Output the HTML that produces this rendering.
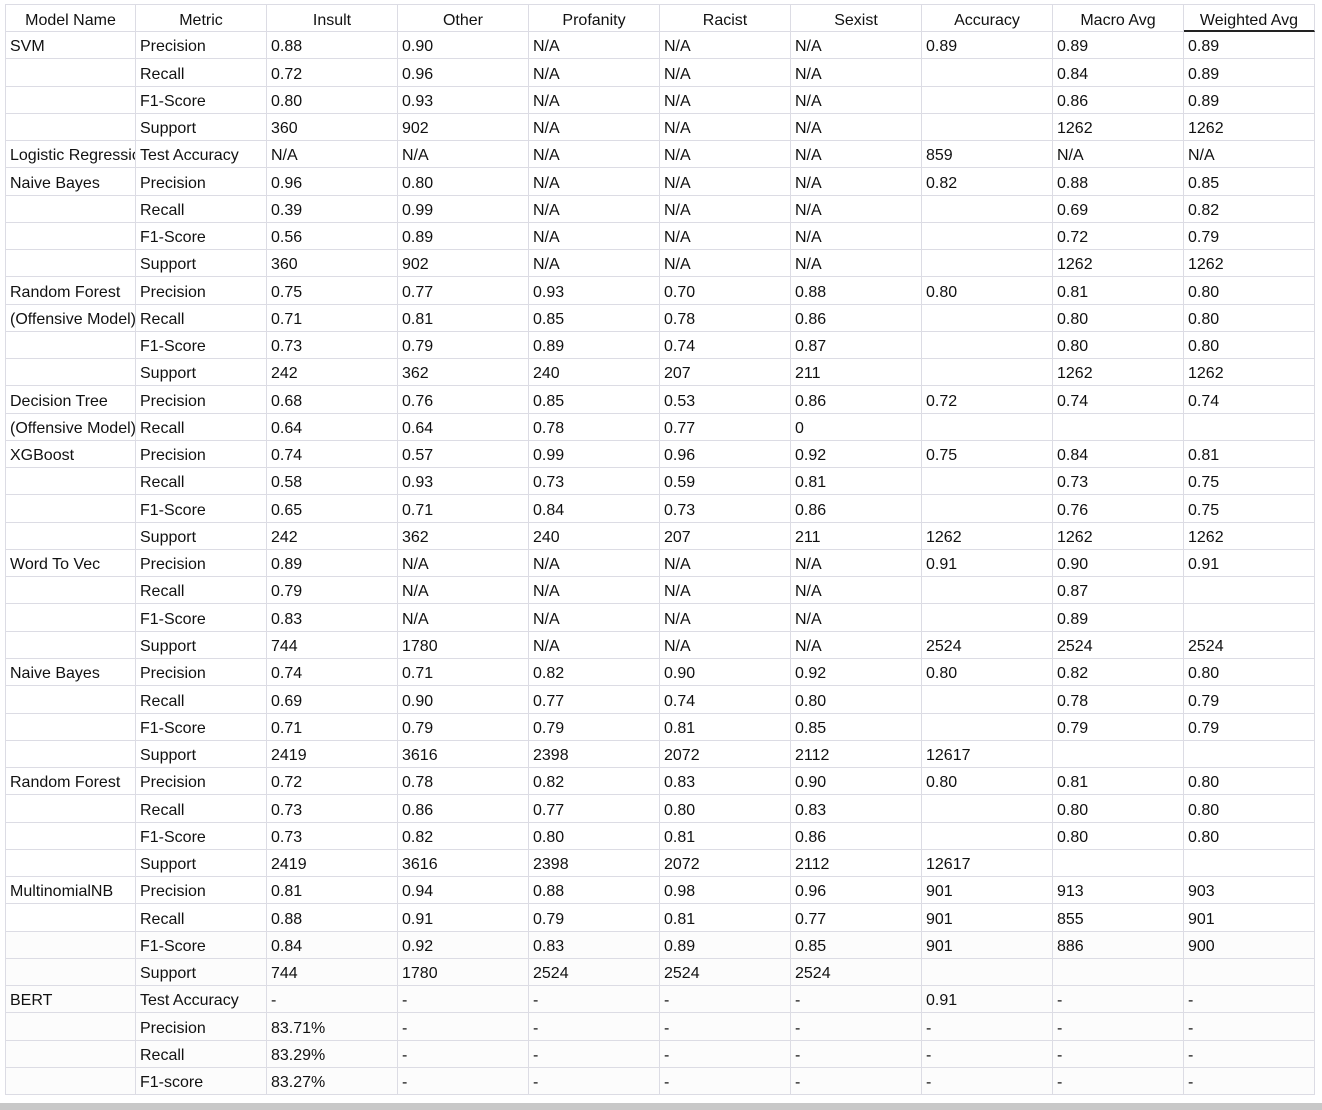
<!DOCTYPE html>
<html><head><meta charset="utf-8"><style>
body{margin:0;width:1322px;height:1110px;background:#fff;position:relative;overflow:hidden;font-family:"Liberation Sans",Arial,sans-serif;font-size:16px;color:#111}
.c{position:absolute;box-sizing:border-box;border-right:1px solid #dcdce4;border-bottom:1px solid #dcdce4;padding-left:4px;padding-top:2px;white-space:nowrap;overflow:hidden;line-height:27px}
.h{text-align:center;padding-left:0;border-top:1px solid #dcdce4}
#bar{position:absolute;left:0;top:1103px;width:1322px;height:7px;background:#c8c8c8}
</style></head><body>
<div id="grid"></div>
<div id="bar"></div>
<script>
const headers=["Model Name","Metric","Insult","Other","Profanity","Racist","Sexist","Accuracy","Macro Avg","Weighted Avg"];
const rows=[
["SVM","Precision","0.88","0.90","N/A","N/A","N/A","0.89","0.89","0.89"],
["","Recall","0.72","0.96","N/A","N/A","N/A","","0.84","0.89"],
["","F1-Score","0.80","0.93","N/A","N/A","N/A","","0.86","0.89"],
["","Support","360","902","N/A","N/A","N/A","","1262","1262"],
["Logistic Regression","Test Accuracy","N/A","N/A","N/A","N/A","N/A","859","N/A","N/A"],
["Naive Bayes","Precision","0.96","0.80","N/A","N/A","N/A","0.82","0.88","0.85"],
["","Recall","0.39","0.99","N/A","N/A","N/A","","0.69","0.82"],
["","F1-Score","0.56","0.89","N/A","N/A","N/A","","0.72","0.79"],
["","Support","360","902","N/A","N/A","N/A","","1262","1262"],
["Random Forest","Precision","0.75","0.77","0.93","0.70","0.88","0.80","0.81","0.80"],
["(Offensive Model)","Recall","0.71","0.81","0.85","0.78","0.86","","0.80","0.80"],
["","F1-Score","0.73","0.79","0.89","0.74","0.87","","0.80","0.80"],
["","Support","242","362","240","207","211","","1262","1262"],
["Decision Tree","Precision","0.68","0.76","0.85","0.53","0.86","0.72","0.74","0.74"],
["(Offensive Model)","Recall","0.64","0.64","0.78","0.77","0","","",""],
["XGBoost","Precision","0.74","0.57","0.99","0.96","0.92","0.75","0.84","0.81"],
["","Recall","0.58","0.93","0.73","0.59","0.81","","0.73","0.75"],
["","F1-Score","0.65","0.71","0.84","0.73","0.86","","0.76","0.75"],
["","Support","242","362","240","207","211","1262","1262","1262"],
["Word To Vec","Precision","0.89","N/A","N/A","N/A","N/A","0.91","0.90","0.91"],
["","Recall","0.79","N/A","N/A","N/A","N/A","","0.87",""],
["","F1-Score","0.83","N/A","N/A","N/A","N/A","","0.89",""],
["","Support","744","1780","N/A","N/A","N/A","2524","2524","2524"],
["Naive Bayes","Precision","0.74","0.71","0.82","0.90","0.92","0.80","0.82","0.80"],
["","Recall","0.69","0.90","0.77","0.74","0.80","","0.78","0.79"],
["","F1-Score","0.71","0.79","0.79","0.81","0.85","","0.79","0.79"],
["","Support","2419","3616","2398","2072","2112","12617","",""],
["Random Forest","Precision","0.72","0.78","0.82","0.83","0.90","0.80","0.81","0.80"],
["","Recall","0.73","0.86","0.77","0.80","0.83","","0.80","0.80"],
["","F1-Score","0.73","0.82","0.80","0.81","0.86","","0.80","0.80"],
["","Support","2419","3616","2398","2072","2112","12617","",""],
["MultinomialNB","Precision","0.81","0.94","0.88","0.98","0.96","901","913","903"],
["","Recall","0.88","0.91","0.79","0.81","0.77","901","855","901"],
["","F1-Score","0.84","0.92","0.83","0.89","0.85","901","886","900"],
["","Support","744","1780","2524","2524","2524","","",""],
["BERT","Test Accuracy","-","-","-","-","-","0.91","-","-"],
["","Precision","83.71%","-","-","-","-","-","-","-"],
["","Recall","83.29%","-","-","-","-","-","-","-"],
["","F1-score","83.27%","-","-","-","-","-","-","-"]
];
const g=document.getElementById('grid');
const X0=5,CW=131,TOP=4,HH=28,RH=27.26;
function mk(txt,x,y,h,cls,first){
  const d=document.createElement('div');
  d.className='c '+cls;
  d.style.left=x+'px';d.style.top=y+'px';d.style.width=CW+'px';d.style.height=h+'px';
  if(first)d.style.borderLeft='1px solid #dcdce4';
  d.style.lineHeight=(h-1)+'px';
  d.textContent=txt;
  return d;
}
headers.forEach((t,i)=>{
  const d=mk(t,X0+i*CW,TOP,HH,'h',i==0);
  if(i==9)d.style.borderBottom='2px solid #222';
  
  
  g.appendChild(d);
});
rows.forEach((r,ri)=>{
  const y=TOP+HH+ri*RH;
  r.forEach((t,ci)=>{
    const d=mk(t,X0+ci*CW,Math.round(y),Math.round(y+RH)-Math.round(y),'',ci==0);
    if(ri>=rows.length-6){d.style.background='#fcfcfc';}
    
    
    g.appendChild(d);
  });
});
</script>
</body></html>
